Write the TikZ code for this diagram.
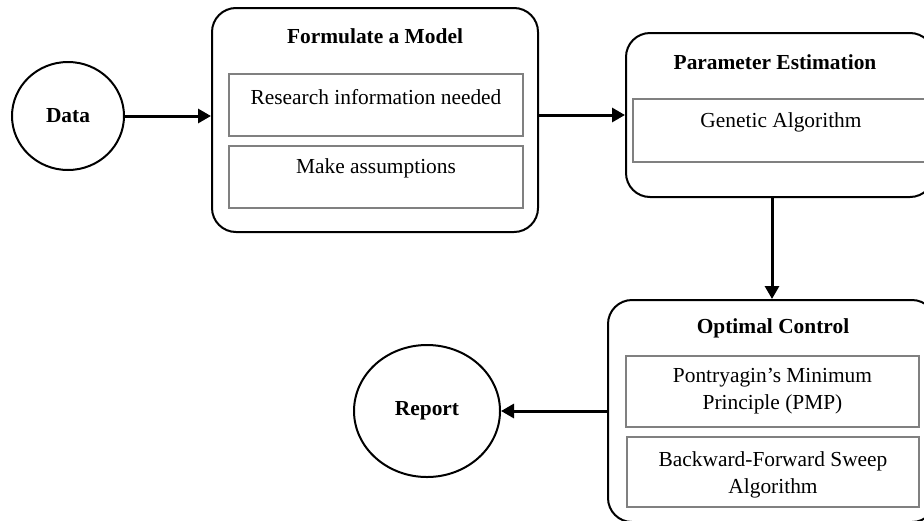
\documentclass[tikz,border=0pt]{standalone}
\usepackage{fontspec}
\setmainfont{Liberation Serif}
\usepackage{tikz}
\usetikzlibrary{shapes,shapes.geometric,arrows.meta,positioning,calc,fit}

\begin{document}
\begin{tikzpicture}[
    x=0.5pt, y=-0.5pt,
    font=\fontsize{10.7}{13.5}\selectfont,
    stage/.style={rectangle, draw, rounded corners=12pt, line width=1pt, inner sep=0pt},
    inbox/.style={rectangle, draw=gray, line width=0.7pt, inner sep=0pt},
    title/.style={font=\fontsize{10.7}{13.5}\selectfont\bfseries},
    itemtxt/.style={align=center, inner sep=0pt},
    term/.style={ellipse, draw, line width=1pt, font=\fontsize{10.7}{13.5}\selectfont\bfseries},
    arrow/.style={-{Triangle[length=6.5pt,width=7pt]}, line width=1.5pt}
]
    \useasboundingbox (0,0) rectangle (924,520);

    % Data (left)
    \node[term, minimum width=56pt, minimum height=54pt] (data) at (68,116) {Data};

    % Formulate a Model
    \node[stage, fit={(212,8) (538,232)}] (model) {};
    \node[title] (modeltitle) at (375,36) {Formulate a Model};
    \node[inbox, fit={(229,74) (523,136)}] (research) {};
    \node[itemtxt] at (376,97) {Research information needed};
    \node[inbox, fit={(229,146) (523,208)}] (assume) {};
    \node[itemtxt] at (376,168) {Make assumptions};

    % Parameter Estimation
    \node[stage, fit={(626,33) (934,197)}] (param) {};
    \node[title] (paramtitle) at (775,62) {Parameter Estimation};
    \node[inbox, fit={(633,99) (929,162)}] (genetic) {};
    \node[itemtxt] at (781,122) {Genetic Algorithm};

    % Optimal Control
    \node[stage, fit={(608,300) (936,522)}] (optimal) {};
    \node[title] (optimaltitle) at (773,328) {Optimal Control};
    \node[inbox, fit={(626,356) (919,427)}] (pmp) {};
    \node[itemtxt] at (772.5,391.5) {Pontryagin’s Minimum\\Principle (PMP)};
    \node[inbox, fit={(627,437) (919,507)}] (sweep) {};
    \node[itemtxt] at (773,474.5) {Backward-Forward Sweep\\Algorithm};

    % Report
    \node[term, minimum width=73pt, minimum height=66pt] (report) at (427,411) {Report};

    % Arrows
    \draw[arrow] (data.east) -- (data.east -| model.west);
    \draw[arrow] (param.west -| model.east) -- (param.west);
    \draw[arrow] (param.south -| optimal.north) -- (optimal.north);
    \draw[arrow] (optimal.west) -- (report.east);
\end{tikzpicture}
\end{document}
